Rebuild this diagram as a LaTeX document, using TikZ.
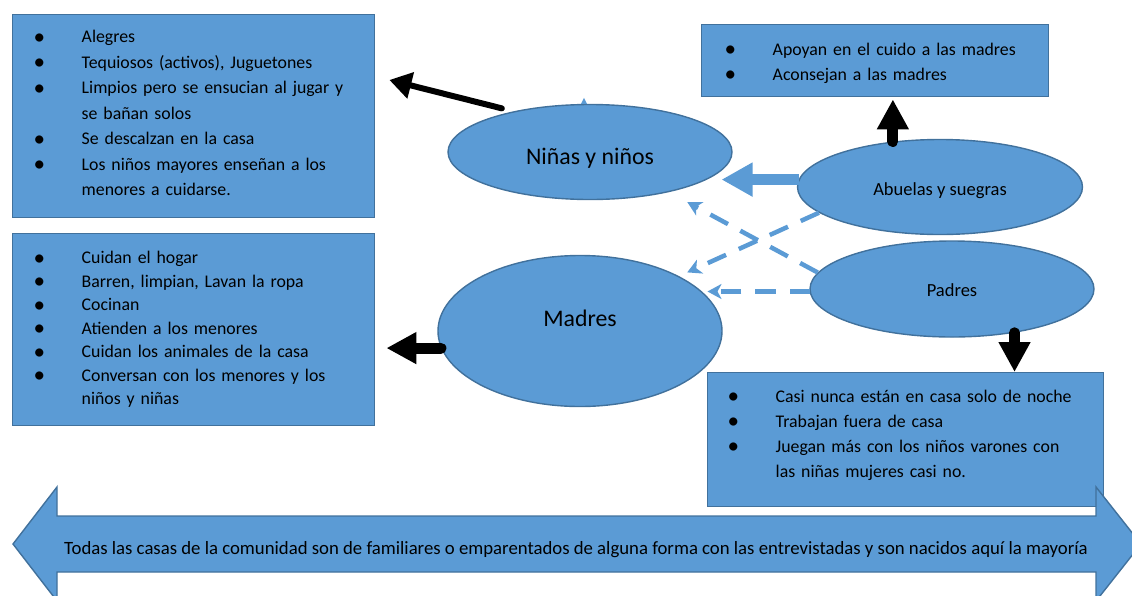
\documentclass[tikz,border=0pt]{standalone}
\usepackage{fontspec}
\setmainfont{Carlito}
\usetikzlibrary{arrows.meta}
\usetikzlibrary{calc}
\usetikzlibrary{shapes.geometric}
\definecolor{office}{HTML}{5B9BD5}
\definecolor{edge}{HTML}{41719C}
\newcommand{\itm}{\makebox[48pt][l]{\raisebox{-1.2pt}{\scalebox{1.3}{\textbullet}}}}
\newcommand{\cnt}{\hspace*{48pt}}

\begin{document}
\begin{tikzpicture}[
  x=1pt, y=-1pt,
  box/.style={draw=edge, fill=office, line width=1.4pt, anchor=north west, align=left,
    inner ysep=0pt, font=\fontsize{17.8}{25}\selectfont},
  oval/.style={ellipse, draw=edge, fill=office, line width=1.4pt, inner sep=0pt},
  blackarrow/.style={line width=6pt, line cap=round, -{Triangle[length=22pt,width=26pt]}},
  blockarrow/.style={line width=11pt, line cap=round, -{Triangle[length=30pt,width=30pt]}},
  bluearrow/.style={office, line width=11pt, -{Triangle[length=31pt,width=32pt]}},
  dasharrow/.style={office, line width=4.5pt, dash pattern=on 20pt off 14pt,
    -{Stealth[length=14pt,width=15pt,inset=4pt]}}
]
\useasboundingbox (0,0) rectangle (1132,595);
\clip (0,0) rectangle (1132,595);

% Boxes with the lists
\node[box, minimum width=362pt, minimum height=203pt, inner xsep=21pt, text width=320pt,
  text depth=159pt, font=\fontsize{17.8}{25.5}\selectfont] (boxa) at (12,14) {
\itm Alegres\\
\itm Tequiosos (activos), Juguetones\\
\itm Limpios pero se ensucian al jugar y\\
\cnt se bañan solos\\
\itm Se descalzan en la casa\\
\itm Los niños mayores enseñan a los\\
\cnt menores a cuidarse.};

\node[box, minimum width=362pt, minimum height=192pt, inner xsep=21pt, text width=320pt,
  font=\fontsize{17.8}{23.5}\selectfont] (boxb) at (12,233) {
\itm Cuidan el hogar\\
\itm Barren, limpian, Lavan la ropa\\
\itm Cocinan\\
\itm Atienden a los menores\\
\itm Cuidan los animales de la casa\\
\itm Conversan con los menores y los\\
\cnt niños y niñas};

\node[box, minimum width=347pt, minimum height=72pt, inner xsep=23pt, text width=301pt,
  text depth=23pt] (boxc) at (701,24) {
\itm Apoyan en el cuido a las madres\\
\itm Aconsejan a las madres};

\node[box, minimum width=396pt, minimum height=134pt, inner xsep=20pt, text width=356pt,
  text depth=87pt] (boxd) at (707,372) {
\itm Casi nunca están en casa solo de noche\\
\itm Trabajan fuera de casa\\
\itm Juegan más con los niños varones con\\
\cnt las niñas mujeres casi no.};

% The four groups
\node[oval, minimum width=284pt, minimum height=95pt, text height=24pt, text depth=0pt,
  font=\fontsize{23.8}{28}\selectfont] (nin) at (590,152) {Niñas y niños};
\node[oval, minimum width=284pt, minimum height=151pt, text height=0pt, text depth=8.6pt,
  font=\fontsize{23.8}{28}\selectfont] (mad) at (580,331) {Madres};
\node[oval, minimum width=285pt, minimum height=95pt, text height=16pt, text depth=0pt,
  font=\fontsize{18.5}{22}\selectfont] (abu) at (940,187) {Abuelas y suegras};
\node[oval, minimum width=284pt, minimum height=96pt, text height=15.4pt, text depth=0pt,
  font=\fontsize{18.5}{22}\selectfont] (pad) at (952,289) {Padres};

% tiny tip on top of the first oval
\fill[office] ($(nin.north)+(-9,0)$) -- ++(3,-6) -- ++(3,6) -- cycle;

% Arrows from the groups to their lists
\draw[blackarrow, shorten <=12pt] (nin.152) -- ($(boxa.north east)+(14,66)$);
\draw[blockarrow, shorten >=2pt] (abu.136) -- (abu.136 |- boxc.south);
\draw[blockarrow] (pad.-35) -- (pad.-35 |- boxd.north);
\draw[blockarrow, shorten >=11pt] (mad.187) -- (mad.187 -| boxb.east);

% Influence between the groups
\draw[bluearrow] (abu.177) -- ++(-77,0);
\draw[dasharrow, shorten >=9pt] (abu.192) -- (mad.29);
\draw[dasharrow, shorten >=21pt] (pad.173) -- (nin.-27.5);
\draw[dasharrow] (pad.181) -- ++(-102,0);

% Band along the bottom
\draw[edge, fill=office, line width=1.4pt]
  (13,544) -- (57,487) -- (57,516) -- (1096,516) -- (1096,487) -- (1141,544)
  -- (1096,601) -- (1096,572) -- (57,572) -- (57,601) -- cycle;
\node[font=\fontsize{18.75}{22}\selectfont] (casas) at (576,550) {Todas las casas de la comunidad son de familiares o emparentados de alguna forma con las entrevistadas y son nacidos aquí la mayoría};

\end{tikzpicture}
\end{document}
